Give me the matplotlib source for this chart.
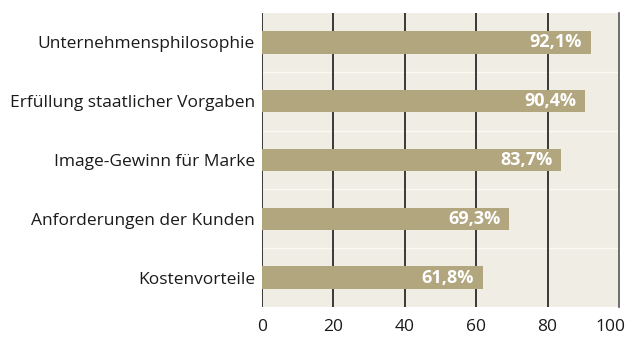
import matplotlib.pyplot as plt
from matplotlib.transforms import ScaledTranslation

categories = ['Unternehmensphilosophie', 'Erfüllung staatlicher Vorgaben',
              'Image-Gewinn für Marke', 'Anforderungen der Kunden',
              'Kostenvorteile']
values = [92.1, 90.4, 83.7, 69.3, 61.8]
xticks = [0, 20, 40, 60, 80, 100]

plt.rcParams['font.family'] = ['Open Sans', 'DejaVu Sans']

fig = plt.figure(figsize=(6.29, 3.39), dpi=100)
ax = fig.add_axes([0.4165, 0.0944, 0.5675, 0.8673])
ax.set_facecolor('#f0ede5')

pos = list(range(len(categories)))
ax.barh(pos, values, height=0.38, color='#b2a67f', zorder=3)
for p, v in zip(pos, values):
    ax.text(v - 2.4, p, '{:.1f}%'.format(v).replace('.', ','),
            ha='right', va='center', color='white', fontsize=13,
            fontweight='bold', zorder=4)

# thin white separators between rows
for b in range(1, len(categories)):
    ax.axhline(b - 0.5, color='#fbf9f4', lw=1, zorder=1)

for t in xticks[:-1]:
    ax.axvline(t, color='#1a1a1a', lw=1.2, zorder=2)

ax.set_xlim(0, 100)
ax.set_ylim(len(categories) - 0.5, -0.5)
ax.set_xticks(xticks)
ax.set_yticks(pos)
ax.set_yticklabels(categories)
ax.tick_params(length=0, labelsize=12.5, colors='#1a1a1a')
ax.tick_params(axis='y', pad=5)
ax.tick_params(axis='x', pad=9)

# keep the last tick label inside the figure
last = ax.get_xticklabels()[-1]
last.set_transform(last.get_transform() + ScaledTranslation(-6 / 72, 0, fig.dpi_scale_trans))

for s in ['top', 'bottom', 'left']:
    ax.spines[s].set_visible(False)
ax.spines['right'].set_color('#555555')
ax.spines['right'].set_linewidth(1.2)

fig.savefig('out.png', dpi=100)
